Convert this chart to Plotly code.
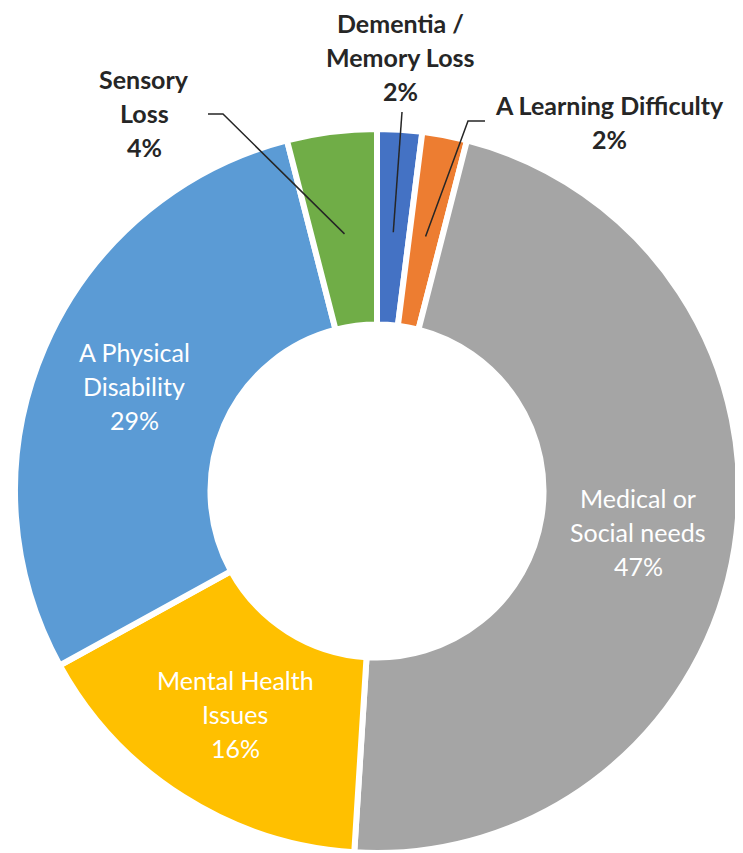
import numpy as np
import plotly.graph_objects as go

# данные
labels = ["Dementia / Memory Loss", "A Learning Difficulty", "Medical or Social needs",
          "Mental Health Issues", "A Physical Disability", "Sensory Loss"]
label_lines = [["Dementia /", "Memory Loss"], ["A Learning Difficulty"], ["Medical or", "Social needs"],
               ["Mental Health", "Issues"], ["A Physical", "Disability"], ["Sensory", "Loss"]]
values = [2, 2, 47, 16, 29, 4]
colors = ["#4472C4", "#ED7D31", "#A5A5A5", "#FFC000", "#5B9BD5", "#70AD47"]

# the page has an 8px body margin, so the figure is a bit smaller than the window
PAD = 8
W, H = 743 - PAD, 853 - PAD
cx, cy, R = 377, 491, 362
hole = 0.46

# where the labels go: inside the ring or outside with a leader line
inside = [False, False, True, True, True, False]
outside_pos = {0: (400, 57), 1: (609, 122), 5: (144, 113)}
elbow = {0: [(402, 112)], 1: [(468, 121), (485, 121)], 5: [(223, 114), (208, 114)]}


def px(x):
    return (x - PAD) / W


def py(y):
    return 1 - (y - PAD) / H


fig = go.Figure()
fig.add_trace(go.Pie(labels=labels, values=values, sort=False, direction="clockwise", rotation=0,
                     hole=hole, textinfo="none", showlegend=False,
                     marker=dict(colors=colors, line=dict(color="white", width=6)),
                     domain=dict(x=[px(cx - R), px(cx + R)], y=[py(cy + R), py(cy - R)])))

total = sum(values)
cum = np.cumsum([0] + values[:-1])
annotations = []
shapes = []
line_h = 34
for i, v in enumerate(values):
    mid = 2 * np.pi * (cum[i] + v / 2) / total
    text_lines = label_lines[i] + [f"{round(100 * v / total)}%"]
    if inside[i]:
        r = R * (1 + hole) / 2
        x, y = cx + r * np.sin(mid), cy - r * np.cos(mid)
        font = dict(family="Lato, sans-serif", size=25, color="white")
    else:
        x, y = outside_pos[i]
        font = dict(family="Lato, sans-serif", size=25, color="#262626", weight="bold")
        ra = 0.716 * R
        ax, ay = cx + ra * np.sin(mid), cy - ra * np.cos(mid)
        pts = [(ax, ay)] + elbow[i]
        path = "M " + " L ".join(f"{px(a)},{py(b)}" for a, b in pts)
        shapes.append(dict(type="path", path=path, xref="paper", yref="paper",
                           line=dict(color="#262626", width=1.5)))
    n = len(text_lines)
    for k, t in enumerate(text_lines):
        annotations.append(dict(text=t, x=px(x), y=py(y), xref="paper", yref="paper",
                                showarrow=False, font=font, xanchor="center", yanchor="middle",
                                yshift=((n - 1) / 2 - k) * line_h))

fig.update_layout(width=W, height=H, margin=dict(l=0, r=0, t=0, b=0),
                  paper_bgcolor="white", annotations=annotations, shapes=shapes)

fig.write_html("out.html")
